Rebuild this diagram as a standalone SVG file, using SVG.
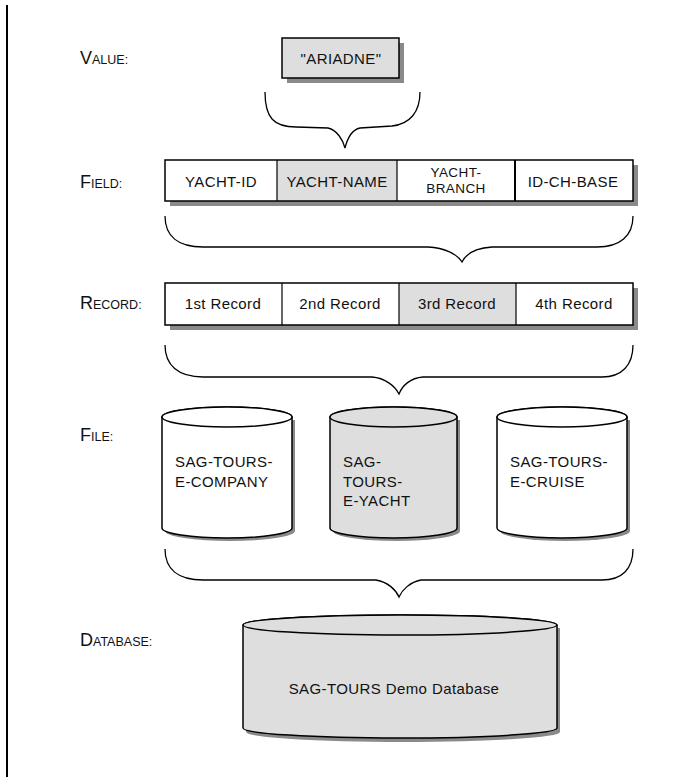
<svg xmlns="http://www.w3.org/2000/svg" width="680" height="777" viewBox="0 0 680 777">
<style>
text { font-family: "Liberation Sans", Arial, sans-serif; fill: #111; }
.t { font-size: 15px; letter-spacing: 0.4px; }
.t2 { font-size: 13.5px; letter-spacing: 0.4px; }
.c { text-anchor: middle; }
.big { font-size: 18px; }
.sm { font-size: 12.5px; }
.box { fill: #fff; stroke: #000; stroke-width: 1.5; }
.gray { fill: #dedede; }
.white { fill: #fff; }
.shadow { fill: #8a8a8a; }
.div { stroke: #000; stroke-width: 1.2; }
.brace { fill: none; stroke: #000; stroke-width: 1.3; }
.cyl { stroke: #000; stroke-width: 1.5; }
</style>
<rect x="6" y="5" width="2" height="772" fill="#000"/>

<g id="labels">
<text x="80" y="64"><tspan class="big">V</tspan><tspan class="sm">ALUE:</tspan></text>
<text x="80" y="188"><tspan class="big">F</tspan><tspan class="sm">IELD:</tspan></text>
<text x="80" y="309"><tspan class="big">R</tspan><tspan class="sm">ECORD:</tspan></text>
<text x="80" y="441"><tspan class="big">F</tspan><tspan class="sm">ILE:</tspan></text>
<text x="80" y="646"><tspan class="big">D</tspan><tspan class="sm">ATABASE:</tspan></text>
</g>

<g id="value">
<rect class="shadow" x="287" y="43" width="117" height="40"/>
<rect class="box gray" x="282" y="38" width="117" height="40"/>
<text class="t c" x="341" y="64">"ARIADNE"</text>
</g>

<g id="field">
<rect class="shadow" x="170" y="165" width="468" height="41"/>
<rect class="white" x="165" y="160" width="468" height="41"/>
<rect class="gray" x="277" y="160" width="120" height="41"/>
<rect fill="none" stroke="#000" stroke-width="1.5" x="165" y="160" width="468" height="41"/>
<line class="div" x1="277" y1="160" x2="277" y2="201"/>
<line class="div" x1="397" y1="160" x2="397" y2="201"/>
<line stroke="#000" stroke-width="2" x1="515" y1="160" x2="515" y2="201"/>
<text class="t c" x="221" y="187">YACHT-ID</text>
<text class="t c" x="337" y="187">YACHT-NAME</text>
<text class="t2 c" x="456" y="177">YACHT-</text>
<text class="t2 c" x="456" y="193">BRANCH</text>
<text class="t c" x="573" y="187">ID-CH-BASE</text>
</g>

<g id="record">
<rect class="shadow" x="170" y="288" width="468" height="42"/>
<rect class="white" x="165" y="283" width="468" height="42"/>
<rect class="gray" x="399" y="283" width="117" height="42"/>
<rect fill="none" stroke="#000" stroke-width="1.5" x="165" y="283" width="468" height="42"/>
<line class="div" x1="282" y1="283" x2="282" y2="325"/>
<line class="div" x1="399" y1="283" x2="399" y2="325"/>
<line class="div" x1="516" y1="283" x2="516" y2="325"/>
<text class="t c" x="223" y="309">1st Record</text>
<text class="t c" x="340" y="309">2nd Record</text>
<text class="t c" x="457" y="309">3rd Record</text>
<text class="t c" x="574" y="309">4th Record</text>
</g>

<g id="file1">
<path class="shadow" d="M165,420 V531 A65,10 0 0 0 295,531 V420 Z"/>
<path class="cyl white" d="M162,417 V528 A65,10 0 0 0 292,528 V417 A65,10 0 0 0 162,417 Z"/>
<ellipse class="cyl white" cx="227" cy="417" rx="65" ry="10"/>
<text class="t" x="175" y="467">SAG-TOURS-</text>
<text class="t" x="175" y="487">E-COMPANY</text>
</g>

<g id="file2">
<path class="shadow" d="M333,420 V531 A63.5,10 0 0 0 460,531 V420 Z"/>
<path class="cyl gray" d="M330,417 V528 A63.5,10 0 0 0 457,528 V417 A63.5,10 0 0 0 330,417 Z"/>
<ellipse class="cyl gray" cx="393.5" cy="417" rx="63.5" ry="10"/>
<text class="t" x="343" y="467">SAG-</text>
<text class="t" x="343" y="487">TOURS-</text>
<text class="t" x="343" y="506">E-YACHT</text>
</g>

<g id="file3">
<path class="shadow" d="M500,420 V531 A65,10 0 0 0 630,531 V420 Z"/>
<path class="cyl white" d="M497,417 V528 A65,10 0 0 0 627,528 V417 A65,10 0 0 0 497,417 Z"/>
<ellipse class="cyl white" cx="562" cy="417" rx="65" ry="10"/>
<text class="t" x="510" y="467">SAG-TOURS-</text>
<text class="t" x="510" y="487">E-CRUISE</text>
</g>

<g id="database">
<path class="shadow" d="M246,628 V732 A157,10 0 0 0 560,732 V628 Z"/>
<path class="cyl gray" d="M243,625 V728 A157,10 0 0 0 557,728 V625 A157,10 0 0 0 243,625 Z"/>
<ellipse class="cyl gray" cx="400" cy="625" rx="157" ry="10"/>
<text class="t c" x="394" y="694">SAG-TOURS Demo Database</text>
</g>

<g id="connectors">
<path class="brace" d="M265,92 C265,118 274,127 296,127 L328,128 C337,130 343,140 345,148 C347,140 351,130 360,128 L392,126 C410,124 420,112 420,92"/>
<path class="brace" d="M165,216 C165,236 178,247 203,247 L428,247 C445,248 457,254 462,262 C466,254 475,248 492,247 L597,247 C620,247 633,236 633,216"/>
<path class="brace" d="M165,345 C165,365 178,377 203,377 L372,377 C385,378 395,386 399,394 C402,386 410,378 423,377 L602,377 C622,377 633,365 633,345"/>
<path class="brace" d="M165,549 C165,569 178,580 203,580 L376,580 C388,582 396,590 399,597 C402,590 410,582 421,580 L602,580 C622,580 633,569 633,549"/>
</g>
</svg>
